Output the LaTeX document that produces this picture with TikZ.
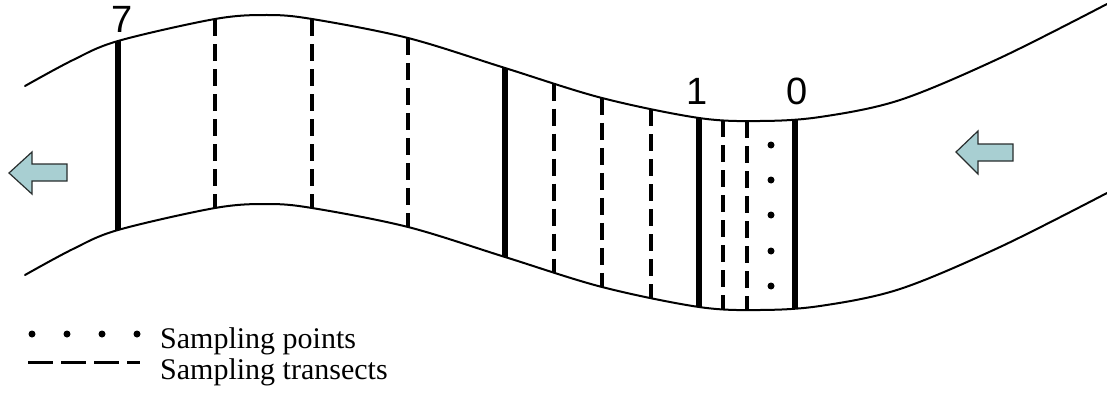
\documentclass[tikz,border=0pt]{standalone}
\usepackage{fontspec}
\setmainfont{Liberation Serif}
\newfontfamily\numfont{Liberation Sans}
\usetikzlibrary{intersections}
\definecolor{arrowfill}{RGB}{168,207,210}
\definecolor{arrowedge}{RGB}{40,45,45}
\tikzset{
  curve/.style={line width=2pt, line cap=round},
  thk/.style={line width=6pt},
  dsh/.style={line width=3.3pt, dash pattern=on 17pt off 8pt},
  dotmark/.style={fill=black},
  flowarrow/.style={fill=arrowfill, draw=arrowedge, line width=1.2pt, line join=miter},
  numlabel/.style={font=\numfont\fontsize{38}{40}\selectfont, anchor=base, inner sep=0pt},
  legendtext/.style={font=\fontsize{30}{34}\selectfont, anchor=base west, inner sep=0pt}
}
\begin{document}
\begin{tikzpicture}[x=1pt, y=-1pt]
\useasboundingbox (0,0) rectangle (1107,393);
% river banks
\draw[curve, name path=topc] plot[smooth, tension=0.55] coordinates {
  (25,86) (73,60) (118,41) (215,19) (267,15) (312,19) (408,38) (505,68)
  (602,98) (699,118) (760,121) (820,117) (900,100) (1000,58) (1107,4)};
\draw[curve, name path=botc] plot[smooth, tension=0.55] coordinates {
  (25,275) (73,249) (118,230) (215,208) (267,204) (312,208) (408,227) (505,257)
  (602,287) (699,307) (760,310) (820,306) (900,289) (1000,247) (1107,193)};
% transects
\foreach \x/\s [count=\i] in {118/thk, 215/dsh, 312/dsh, 408/dsh, 505/thk,
    554/dsh, 602/dsh, 651/dsh, 699/thk, 723/dsh, 747/dsh, 795/thk} {
  \path[name path=vline\i] (\x,-20) -- (\x,420);
  \path[name intersections={of=topc and vline\i, by=t\i}];
  \path[name intersections={of=botc and vline\i, by=b\i}];
  \draw[\s] (t\i) -- (b\i);
}
% sampling points
\foreach \y [count=\j] in {145,180,215,251,286} {
  \fill[dotmark] (771,\y) circle (3.5);
}
% labels
\node[numlabel] (n7) at (122,33) {7};
\node[numlabel] (n1) at (697,105) {1};
\node[numlabel] (n0) at (797,105) {0};
% flow arrows
\draw[flowarrow] (9,173) -- (32,152) -- (32,164) -- (67,164) -- (67,181)
  -- (32,181) -- (32,194) -- cycle;
\draw[flowarrow] (956,152) -- (978,131) -- (978,144) -- (1013,144) -- (1013,161)
  -- (978,161) -- (978,174) -- cycle;
% legend
\foreach \x in {32,67,102,137} { \fill[dotmark] (\x,334) circle (3.5); }
\draw[line width=3pt, dash pattern=on 25pt off 8pt] (28,362) -- (140,362);
\node[legendtext] (lp) at (160,348) {Sampling points};
\node[legendtext] (lt) at (160,379) {Sampling transects};
\end{tikzpicture}
\end{document}
